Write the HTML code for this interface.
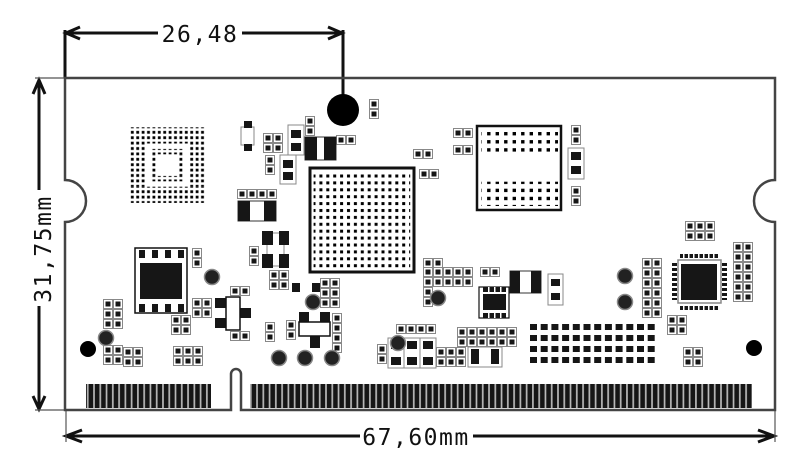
<!DOCTYPE html>
<html><head><meta charset="utf-8"><style>
html,body{margin:0;padding:0;background:#fff;width:800px;height:469px;overflow:hidden}
svg{display:block}
.t{font-family:"DejaVu Sans Mono","Liberation Mono",monospace;font-size:23px;fill:#111;letter-spacing:1.5px}
.o{fill:#fff;stroke:#888;stroke-width:1}
.b{fill:#161616}
</style></head><body>
<svg width="800" height="469" viewBox="0 0 800 469" xmlns="http://www.w3.org/2000/svg">
<defs>
<pattern id="pc" width="10" height="10" patternUnits="userSpaceOnUse">
<rect x="0.5" y="0.5" width="9" height="9" fill="#fff" stroke="#888" stroke-width="1"/>
<rect x="2.5" y="2.5" width="5" height="5" fill="#161616"/></pattern>
<pattern id="pd1" width="5.4" height="5.4" patternUnits="userSpaceOnUse">
<rect x="1.3" y="1.3" width="2.8" height="2.8" fill="#000"/></pattern>
<pattern id="pd2" width="6.9" height="6.9" patternUnits="userSpaceOnUse">
<rect x="2" y="2" width="3" height="3" fill="#000"/></pattern>
<pattern id="pd3" width="8.5" height="8.1" patternUnits="userSpaceOnUse">
<rect x="2.6" y="2.4" width="3.4" height="3.4" fill="#000"/></pattern>
<pattern id="pf" width="6.27" height="30" patternUnits="userSpaceOnUse">
<rect x="0" y="0" width="6.27" height="30" fill="#bbb"/><rect x="0.8" y="0" width="4.6" height="30" fill="#161616"/></pattern>
<symbol id="row" overflow="visible">
<rect x="0" y="0" width="7" height="6"/><rect x="10.7" y="0" width="7" height="6"/><rect x="21.4" y="0" width="7" height="6"/><rect x="32.1" y="0" width="7" height="6"/><rect x="42.8" y="0" width="7" height="6"/><rect x="53.5" y="0" width="7" height="6"/><rect x="64.2" y="0" width="7" height="6"/><rect x="74.9" y="0" width="7" height="6"/><rect x="85.6" y="0" width="7" height="6"/><rect x="96.3" y="0" width="7" height="6"/><rect x="107" y="0" width="7" height="6"/><rect x="117.7" y="0" width="7" height="6"/>
</symbol>
</defs>

<g stroke="#111" stroke-width="3" fill="none">
<line x1="65" y1="30" x2="65" y2="78"/>
<line x1="343" y1="30" x2="343" y2="95"/>
<line x1="66" y1="33" x2="158" y2="33"/><line x1="242" y1="33" x2="342" y2="33"/>
<polyline points="80,27 66,33 80,39"/><polyline points="328,27 342,33 328,39"/>
<line x1="39" y1="80" x2="39" y2="190"/><line x1="39" y1="306" x2="39" y2="409"/>
<polyline points="33,94 39,80 45,94"/><polyline points="33,396 39,409 45,396"/>
<line x1="66" y1="436" x2="360" y2="436"/><line x1="473" y1="436" x2="774" y2="436"/>
<polyline points="82,430 66,436 82,442"/><polyline points="758,430 774,436 758,442"/>
</g>
<g stroke="#555" stroke-width="1.2">
<line x1="35" y1="78" x2="65" y2="78"/><line x1="35" y1="410" x2="65" y2="410"/>
<line x1="66" y1="410" x2="66" y2="442"/><line x1="775" y1="410" x2="775" y2="442"/>
</g>
<text class="t" x="200" y="42" text-anchor="middle">26,48</text>
<text class="t" x="416" y="445" text-anchor="middle">67,60mm</text>
<text class="t" transform="translate(51,249) rotate(-90)" text-anchor="middle">31,75mm</text>

<path d="M65,78 H775 V180 A21,21 0 0 0 775,222 V410 H241 V374 A5,5 0 0 0 231,374 V410 H65 V222 A21,21 0 0 0 65,180 Z" fill="none" stroke="#444" stroke-width="2.5"/>

<rect x="86" y="384" width="125" height="24" fill="url(#pf)"/>
<rect x="250" y="384" width="502" height="24" fill="url(#pf)"/>

<circle cx="343" cy="110" r="16" fill="#000"/>
<circle cx="88" cy="349" r="8" fill="#000"/>
<circle cx="754" cy="348" r="8" fill="#000"/>

<g fill="url(#pd1)">
<rect x="130" y="127.3" width="75.6" height="16.2"/>
<rect x="130" y="186.7" width="75.6" height="16.2"/>
<rect x="130" y="143.5" width="16.2" height="43.2"/>
<rect x="189.4" y="143.5" width="16.2" height="43.2"/>
<rect x="151.6" y="148.9" width="32.4" height="5.4"/>
<rect x="151.6" y="175.9" width="32.4" height="5.4"/>
<rect x="151.6" y="154.3" width="5.4" height="21.6"/>
<rect x="178.6" y="154.3" width="5.4" height="21.6"/>
</g>

<rect x="310" y="168" width="104" height="104" fill="#fff" stroke="#111" stroke-width="3"/>
<rect x="313.6" y="172.9" width="96.6" height="96.6" fill="url(#pd2)"/>

<rect x="477" y="126" width="84" height="84" fill="#fff" stroke="#111" stroke-width="2.5"/>
<rect x="481.5" y="131" width="76.5" height="24.3" fill="url(#pd3)"/>
<rect x="481.5" y="181.7" width="76.5" height="24.3" fill="url(#pd3)"/>

<rect x="678" y="260" width="43" height="43" fill="#fff" stroke="#888" stroke-width="1.5"/>
<rect x="681" y="264" width="36" height="36" class="b"/>
<g class="b">
<rect x="680" y="254" width="38" height="4"/><rect x="680" y="306" width="38" height="4"/>
<rect x="672" y="263" width="5" height="37"/><rect x="722" y="263" width="5" height="37"/>
</g>
<g fill="#fff"><rect x="683" y="254" width="1.5" height="4"/><rect x="688" y="254" width="1.5" height="4"/><rect x="693" y="254" width="1.5" height="4"/><rect x="698" y="254" width="1.5" height="4"/><rect x="703" y="254" width="1.5" height="4"/><rect x="708" y="254" width="1.5" height="4"/><rect x="713" y="254" width="1.5" height="4"/>
<rect x="683" y="306" width="1.5" height="4"/><rect x="688" y="306" width="1.5" height="4"/><rect x="693" y="306" width="1.5" height="4"/><rect x="698" y="306" width="1.5" height="4"/><rect x="703" y="306" width="1.5" height="4"/><rect x="708" y="306" width="1.5" height="4"/><rect x="713" y="306" width="1.5" height="4"/>
<rect x="672" y="266" width="5" height="2"/><rect x="672" y="271" width="5" height="2"/><rect x="672" y="276" width="5" height="2"/><rect x="672" y="281" width="5" height="2"/><rect x="672" y="286" width="5" height="2"/><rect x="672" y="291" width="5" height="2"/><rect x="672" y="296" width="5" height="2"/>
<rect x="722" y="266" width="5" height="2"/><rect x="722" y="271" width="5" height="2"/><rect x="722" y="276" width="5" height="2"/><rect x="722" y="281" width="5" height="2"/><rect x="722" y="286" width="5" height="2"/><rect x="722" y="291" width="5" height="2"/><rect x="722" y="296" width="5" height="2"/></g>

<rect x="135" y="248" width="52" height="65" fill="#fff" stroke="#111" stroke-width="1.5"/>
<g class="b"><rect x="139" y="250" width="6" height="8"/><rect x="152" y="250" width="6" height="8"/><rect x="165" y="250" width="6" height="8"/><rect x="178" y="250" width="6" height="8"/>
<rect x="140" y="263" width="42" height="36"/>
<rect x="139" y="304" width="6" height="8"/><rect x="152" y="304" width="6" height="8"/><rect x="165" y="304" width="6" height="8"/><rect x="178" y="304" width="6" height="8"/></g>

<g class="b">
<use href="#row" x="530" y="324"/>
<use href="#row" x="530" y="335"/>
<use href="#row" x="530" y="346"/>
<use href="#row" x="530" y="357"/>
</g>

<g fill="url(#pc)">
<g transform="translate(263,133)"><rect width="20" height="20"/></g>
<g transform="translate(237,189)"><rect width="40" height="10"/></g>
<g transform="translate(269,270)"><rect width="20" height="20"/></g>
<g transform="translate(320,278)"><rect width="20" height="30"/></g>
<g transform="translate(423,258)"><rect width="20" height="10"/></g>
<g transform="translate(423,267)"><rect width="50" height="20"/></g>
<g transform="translate(423,287)"><rect width="10" height="20"/></g>
<g transform="translate(480,267)"><rect width="20" height="10"/></g>
<g transform="translate(396,324)"><rect width="40" height="10"/></g>
<g transform="translate(457,327)"><rect width="60" height="20"/></g>
<g transform="translate(436,347)"><rect width="30" height="20"/></g>
<g transform="translate(685,221)"><rect width="30" height="20"/></g>
<g transform="translate(733,242)"><rect width="20" height="60"/></g>
<g transform="translate(642,258)"><rect width="20" height="60"/></g>
<g transform="translate(667,315)"><rect width="20" height="20"/></g>
<g transform="translate(683,347)"><rect width="20" height="20"/></g>
<g transform="translate(103,299)"><rect width="20" height="30"/></g>
<g transform="translate(103,345)"><rect width="20" height="20"/></g>
<g transform="translate(123,347)"><rect width="20" height="20"/></g>
<g transform="translate(173,346)"><rect width="30" height="20"/></g>
<g transform="translate(171,315)"><rect width="20" height="20"/></g>
<g transform="translate(192,298)"><rect width="20" height="20"/></g>
<g transform="translate(230,286)"><rect width="20" height="10"/></g>
<g transform="translate(230,331)"><rect width="20" height="10"/></g>
<g transform="translate(265,322)"><rect width="10" height="20"/></g>
<g transform="translate(286,320)"><rect width="10" height="20"/></g>
<g transform="translate(332,313)"><rect width="10" height="40"/></g>
<g transform="translate(249,246)"><rect width="10" height="20"/></g>
<g transform="translate(192,248)"><rect width="10" height="20"/></g>
<g transform="translate(265,155)"><rect width="10" height="20"/></g>
<g transform="translate(305,116)"><rect width="10" height="20"/></g>
<g transform="translate(336,135)"><rect width="20" height="10"/></g>
<g transform="translate(369,99)"><rect width="10" height="20"/></g>
<g transform="translate(453,128)"><rect width="20" height="10"/></g>
<g transform="translate(453,145)"><rect width="20" height="10"/></g>
<g transform="translate(413,149)"><rect width="20" height="10"/></g>
<g transform="translate(419,169)"><rect width="20" height="10"/></g>
<g transform="translate(571,125)"><rect width="10" height="20"/></g>
<g transform="translate(571,186)"><rect width="10" height="20"/></g>
<g transform="translate(377,344)"><rect width="10" height="20"/></g>
</g>

<rect x="288" y="125" width="16" height="30" class="o"/><rect x="291" y="130" width="10" height="8" class="b"/><rect x="291" y="143" width="10" height="8" class="b"/>
<rect x="280" y="155" width="16" height="29" class="o"/><rect x="283" y="160" width="10" height="8" class="b"/><rect x="283" y="172" width="10" height="8" class="b"/>
<rect x="568" y="148" width="16" height="31" class="o"/><rect x="571" y="152" width="10" height="8" class="b"/><rect x="571" y="166" width="10" height="8" class="b"/>
<rect x="548" y="274" width="15" height="31" class="o"/><rect x="551" y="279" width="9" height="7" class="b"/><rect x="551" y="293" width="9" height="7" class="b"/>
<rect x="388" y="338" width="16" height="30" class="o"/><rect x="404" y="338" width="16" height="30" class="o"/><rect x="420" y="338" width="16" height="30" class="o"/>
<rect x="391" y="341" width="10" height="8" class="b"/><rect x="391" y="357" width="10" height="8" class="b"/><rect x="407" y="341" width="10" height="8" class="b"/><rect x="407" y="357" width="10" height="8" class="b"/><rect x="423" y="341" width="10" height="8" class="b"/><rect x="423" y="357" width="10" height="8" class="b"/>
<rect x="468" y="347" width="34" height="20" class="o"/><rect x="471" y="349" width="8" height="15" class="b"/><rect x="491" y="349" width="8" height="15" class="b"/>

<rect x="305" y="137" width="31" height="23" fill="#fff" stroke="#333"/><rect x="305" y="137" width="12" height="23" class="b"/><rect x="324" y="137" width="12" height="23" class="b"/>
<rect x="238" y="201" width="38" height="20" fill="#fff" stroke="#333"/><rect x="238" y="201" width="12" height="20" class="b"/><rect x="264" y="201" width="12" height="20" class="b"/>
<rect x="510" y="271" width="31" height="22" fill="#fff" stroke="#333"/><rect x="510" y="271" width="10" height="22" class="b"/><rect x="531" y="271" width="10" height="22" class="b"/>

<rect x="241" y="127" width="13" height="18" class="o"/><rect x="244" y="121" width="8" height="7" class="b"/><rect x="244" y="144" width="8" height="7" class="b"/>

<rect x="267" y="233" width="17" height="33" class="o"/>
<g class="b"><rect x="262" y="231" width="11" height="14"/><rect x="279" y="231" width="10" height="14"/><rect x="262" y="254" width="11" height="14"/><rect x="279" y="254" width="10" height="14"/>
<rect x="292" y="283" width="8" height="9"/><rect x="312" y="283" width="8" height="9"/></g>

<g class="b"><rect x="215" y="298" width="11" height="10"/><rect x="215" y="318" width="11" height="10"/><rect x="240" y="308" width="11" height="10"/></g>
<rect x="226" y="297" width="14" height="33" fill="#fff" stroke="#111" stroke-width="1.5"/>

<g class="b"><rect x="299" y="312" width="10" height="10"/><rect x="320" y="312" width="10" height="10"/><rect x="310" y="336" width="10" height="12"/></g>
<rect x="299" y="322" width="31" height="14" fill="#fff" stroke="#111" stroke-width="1.5"/>

<rect x="479" y="287" width="30" height="31" fill="#fff" stroke="#111" stroke-width="1.2"/>
<g class="b"><rect x="483" y="287" width="23" height="5"/><rect x="483" y="294" width="23" height="16"/><rect x="483" y="313" width="23" height="5"/></g>
<g fill="#fff"><rect x="488" y="287" width="1.5" height="5"/><rect x="494" y="287" width="1.5" height="5"/><rect x="500" y="287" width="1.5" height="5"/><rect x="488" y="313" width="1.5" height="5"/><rect x="494" y="313" width="1.5" height="5"/><rect x="500" y="313" width="1.5" height="5"/></g>

<g fill="#222" stroke="#888" stroke-width="1.5">
<circle cx="212" cy="277" r="7.5"/><circle cx="106" cy="338" r="7.5"/><circle cx="313" cy="302" r="7.5"/>
<circle cx="398" cy="343" r="7.5"/><circle cx="438" cy="298" r="7.5"/><circle cx="625" cy="276" r="7.5"/>
<circle cx="625" cy="302" r="7.5"/><circle cx="279" cy="358" r="7.5"/><circle cx="305" cy="358" r="7.5"/><circle cx="332" cy="358" r="7.5"/>
</g>
</svg>
</body></html>
